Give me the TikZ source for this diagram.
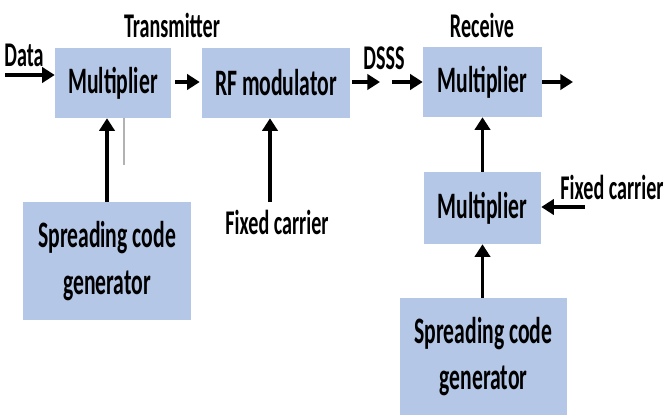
\documentclass[tikz,border=0pt]{standalone}
\usepackage{fontspec}
\setmainfont{Carlito}[FakeStretch=0.58]
\usetikzlibrary{arrows.meta}
\definecolor{boxblue}{RGB}{180,199,231}
\begin{document}
\begin{tikzpicture}[x=0.75pt,y=-0.75pt,
 blk/.style={draw=none,fill=boxblue,inner sep=0pt,align=center,font=\fontsize{28}{35}\selectfont\bfseries},
 lbl/.style={inner sep=0pt,font=\fontsize{26}{28}\selectfont\bfseries},
 arr/.style={line width=2.3pt,-{Triangle[length=9.5pt,width=11.5pt]}},
]
\useasboundingbox (0,0) rectangle (667,417);
% blocks
\node[blk,minimum width=87pt,minimum height=52.5pt] (m1) at (113,83) {Multiplier};
\node[blk,minimum width=111pt,minimum height=52.5pt] (rf) at (276,83) {RF modulator};
\node[blk,minimum width=89.25pt,minimum height=52.5pt] (rm) at (482.5,82) {Multiplier};
\node[blk,minimum width=126pt,minimum height=88.5pt] (scg1) at (107,261) {Spreading code\\generator};
\node[blk,minimum width=87.75pt,minimum height=54pt] (m2) at (482.5,208) {Multiplier};
\node[blk,minimum width=125.25pt,minimum height=87.75pt] (scg2) at (483.5,356.5) {Spreading code\\generator};
% labels
\node[lbl] (tx) at (172,25) {Transmitter};
\node[lbl] (rx) at (482,25) {Receive};
\node[lbl] (data) at (24,55) {Data};
\node[lbl] (dsss) at (384,58) {DSSS};
\node[lbl] (fc1) at (277,222) {Fixed carrier};
\node[lbl] (fc2) at (612,187) {Fixed carrier};
% coordinates
\coordinate (dIn) at (5,75);
\coordinate (d1) at (380,82);
\coordinate (d2) at (392,82);
\coordinate (out) at (573,82);
\coordinate (fcTop) at (270,202);
\coordinate (fc2s) at (585,207);
\coordinate (gTop) at (124,118);
\coordinate (gBot) at (124,165);
% connectors
\draw[arr] (dIn) -- (dIn -| m1.west);
\draw[arr,shorten <=3pt,shorten >=1.5pt] (m1.east |- 0,82) -- (rf.west |- 0,82);
\draw[arr,shorten <=1.5pt] (rf.east |- d1) -- (d1);
\draw[arr] (d2) -- (d2 -| rm.west);
\draw[arr] (rm.east |- out) -- (out);
\draw[arr] (scg1.north -| 107,0) -- (m1.south -| 107,0);
\draw[arr] (fcTop) -- (fcTop |- rf.south);
\draw[arr] (m2.north) -- (m2.north |- rm.south);
\draw[arr] (scg2.north -| m2.south) -- (m2.south);
\draw[arr] (fc2s) -- (fc2s -| m2.east);
\draw[gray!60,line width=0.8pt] (gTop) -- (gBot);
\end{tikzpicture}
\end{document}
